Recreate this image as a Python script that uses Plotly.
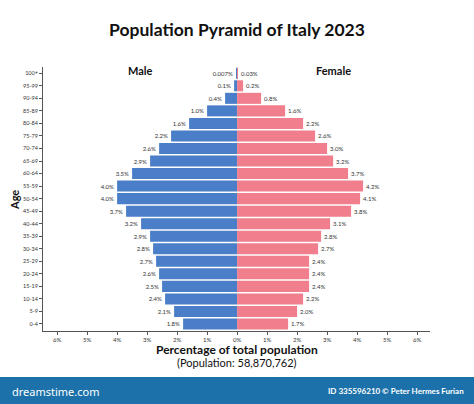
import plotly.graph_objects as go

age_groups = ["0-4", "5-9", "10-14", "15-19", "20-24", "25-29", "30-34", "35-39",
              "40-44", "45-49", "50-54", "55-59", "60-64", "65-69", "70-74",
              "75-79", "80-84", "85-89", "90-94", "95-99", "100+"]
male = [1.8, 2.1, 2.4, 2.5, 2.6, 2.7, 2.8, 2.9, 3.2, 3.7, 4.0, 4.0, 3.5, 2.9, 2.6,
        2.2, 1.6, 1.0, 0.4, 0.1, 0.007]
female = [1.7, 2.0, 2.2, 2.4, 2.4, 2.4, 2.7, 2.8, 3.1, 3.8, 4.1, 4.2, 3.7, 3.2, 3.0,
          2.6, 2.2, 1.6, 0.8, 0.2, 0.03]
male_labels = ["1.8%", "2.1%", "2.4%", "2.5%", "2.6%", "2.7%", "2.8%", "2.9%", "3.2%",
               "3.7%", "4.0%", "4.0%", "3.5%", "2.9%", "2.6%", "2.2%", "1.6%", "1.0%",
               "0.4%", "0.1%", "0.007%"]
female_labels = ["1.7%", "2.0%", "2.2%", "2.4%", "2.4%", "2.4%", "2.7%", "2.8%", "3.1%",
                 "3.8%", "4.1%", "4.2%", "3.7%", "3.2%", "3.0%", "2.6%", "2.2%", "1.6%",
                 "0.8%", "0.2%", "0.03%"]
tick_vals = [-6, -5, -4, -3, -2, -1, 0, 1, 2, 3, 4, 5, 6]
tick_text = ["6%", "5%", "4%", "3%", "2%", "1%", "0%", "1%", "2%", "3%", "4%", "5%", "6%"]

FONT = "Lato"
label_font = dict(family=FONT, size=6, color="#333333")

fig = go.Figure()
fig.add_trace(go.Bar(
    y=age_groups, x=[-v for v in male], orientation="h",
    marker=dict(color="#4a7ec8", line=dict(width=0)),
    text=male_labels, textposition="outside", textfont=label_font,
    cliponaxis=False, name="Male", hoverinfo="skip"))
fig.add_trace(go.Bar(
    y=age_groups, x=female, orientation="h",
    marker=dict(color="#f07e8c", line=dict(width=0)),
    text=female_labels, textposition="outside", textfont=label_font,
    cliponaxis=False, name="Female", hoverinfo="skip"))

fig.update_layout(
    width=474, height=404,
    margin=dict(l=43, r=44, t=67, b=73),
    paper_bgcolor="white", plot_bgcolor="white",
    barmode="overlay", bargap=0.12,
    showlegend=False,
    font=dict(family=FONT, color="#111111"),
    title=dict(text="<b>Population Pyramid of Italy 2023</b>",
               x=0.5, xanchor="center", y=0.925, yanchor="middle",
               font=dict(family=FONT, size=17.5, color="#111111")),
)
fig.update_xaxes(
    range=[-6.47, 6.43], tickvals=tick_vals, ticktext=tick_text,
    showgrid=False, zeroline=False, showline=True, linecolor="#555555", linewidth=1,
    ticks="outside", ticklen=3, tickcolor="#555555",
    tickfont=dict(family=FONT, size=6, color="#333333"))
fig.update_yaxes(
    range=[-0.56, 20.5], showgrid=False, zeroline=False,
    showline=True, linecolor="#555555", linewidth=1,
    ticks="outside", ticklen=3, tickcolor="#555555",
    tickfont=dict(family=FONT, size=5.5, color="#333333"))

ann = [
    dict(text="<b>Male</b>", x=-3.23, y=0.985, xref="x", yref="paper",
         font=dict(family=FONT, size=11, color="#111111")),
    dict(text="<b>Female</b>", x=3.2, y=0.985, xref="x", yref="paper",
         font=dict(family=FONT, size=11, color="#111111")),
    dict(text="<b>Age</b>", x=14, y=200, textangle=-90,
         font=dict(family=FONT, size=11, color="#111111")),
    dict(text="<b>Percentage of total population</b>", x=237, y=349,
         font=dict(family=FONT, size=12, color="#111111")),
    dict(text="(Population: 58,870,762)", x=237, y=362,
         font=dict(family=FONT, size=11, color="#111111")),
    dict(text="dreamstime.com", x=10, y=391, xanchor="left",
         font=dict(family="Noto Sans", size=11, color="white")),
    dict(text="<b>ID 335596210 © Peter Hermes Furian</b>", x=466, y=391, xanchor="right",
         font=dict(family=FONT, size=8, color="white")),
]

# convert pixel-positioned annotations to paper coords
plot_l, plot_r, plot_t, plot_b = 43, 430, 67, 331
def px_to_paper(xp, yp):
    return (xp - plot_l) / (plot_r - plot_l), (plot_b - yp) / (plot_b - plot_t)

for a in ann:
    a.setdefault("showarrow", False)
    if "xref" not in a:
        xp, yp = px_to_paper(a["x"], a["y"])
        a["x"], a["y"] = xp, yp
        a["xref"], a["yref"] = "paper", "paper"
    a.setdefault("yanchor", "middle")
    a.setdefault("xanchor", "center")
fig.update_layout(annotations=ann)

x0, y0 = px_to_paper(0, 377)
x1, y1 = px_to_paper(474, 404)
fig.add_shape(type="rect", xref="paper", yref="paper", x0=x0, x1=x1, y0=y1, y1=y0,
              fillcolor="#1d71aa", line=dict(width=0), layer="below")

fig.write_html("out.html")
